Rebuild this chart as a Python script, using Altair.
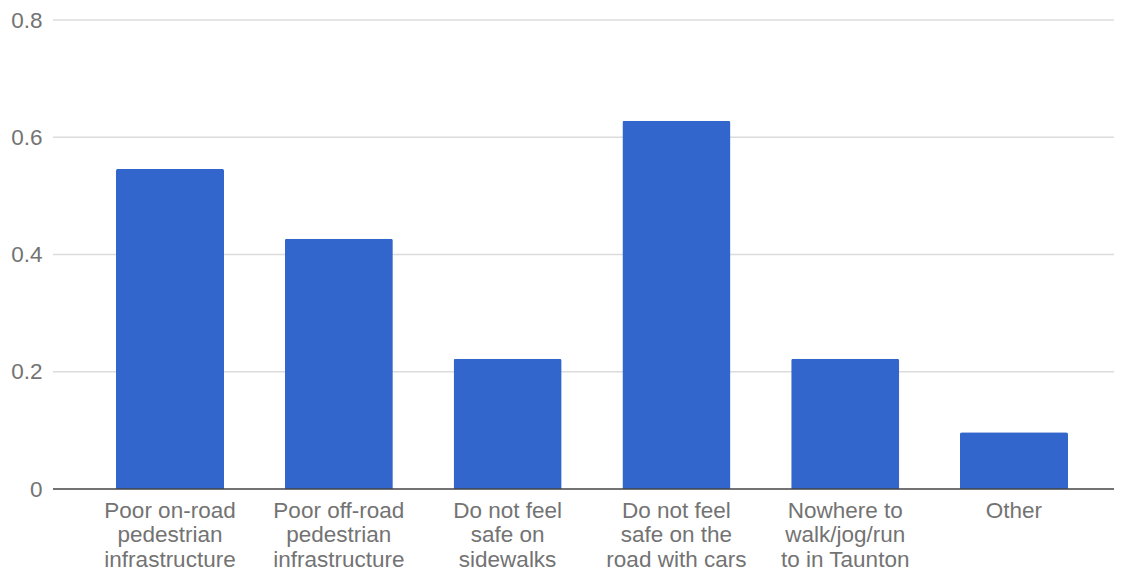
import altair as alt
import pandas as pd

categories = [
    "Poor on-road\npedestrian\ninfrastructure",
    "Poor off-road\npedestrian\ninfrastructure",
    "Do not feel\nsafe on\nsidewalks",
    "Do not feel\nsafe on the\nroad with cars",
    "Nowhere to\nwalk/jog/run\nto in Taunton",
    "Other",
]
values = [0.546, 0.427, 0.222, 0.628, 0.222, 0.097]
y_ticks = [0, 0.2, 0.4, 0.6, 0.8]

df = pd.DataFrame({"category": categories, "value": values})
grid_df = pd.DataFrame({"value": y_ticks[1:]})
base_df = pd.DataFrame({"value": [0]})

FONT = "Liberation Sans"
GRAY = "#737373"
FS = 22.5

y_scale = alt.Scale(domain=[0, 0.8], nice=False, zero=True)
y_axis = alt.Axis(
    title=None,
    values=y_ticks,
    format="~g",
    grid=False,
    ticks=False,
    domain=False,
    labelFont=FONT,
    labelFontSize=FS,
    labelColor=GRAY,
    labelPadding=11,
)

grid = alt.Chart(grid_df).mark_rule(color="#dcdcdc", strokeWidth=1.5).encode(
    y=alt.Y("value:Q", scale=y_scale, axis=y_axis)
)

bars = alt.Chart(df).mark_bar(
    color="#3366cc", cornerRadiusTopLeft=2, cornerRadiusTopRight=2
).encode(
    x=alt.X(
        "category:N",
        sort=categories,
        scale=alt.Scale(range=[63, 1015], paddingInner=0.36, paddingOuter=0),
        axis=alt.Axis(
            title=None,
            labelAngle=0,
            labelExpr="split(datum.value, '\\n')",
            labelFont=FONT,
            labelFontSize=FS,
            labelColor=GRAY,
            labelLineHeight=24.5,
            labelPadding=10,
            ticks=False,
            domain=False,
            grid=False,
        ),
    ),
    y=alt.Y("value:Q", scale=y_scale, axis=y_axis),
)

baseline = alt.Chart(base_df).mark_rule(
    color="#444444", strokeWidth=1.5
).encode(y=alt.Y("value:Q", scale=y_scale, axis=y_axis))

chart = alt.layer(grid, bars, baseline).properties(
    width=1061,
    height=469,
    autosize="none",
    padding={"left": 45, "top": 12, "right": 0, "bottom": 88},
).configure_view(stroke=None)

chart.save("out.html", embed_options={"renderer": "svg", "actions": False})
